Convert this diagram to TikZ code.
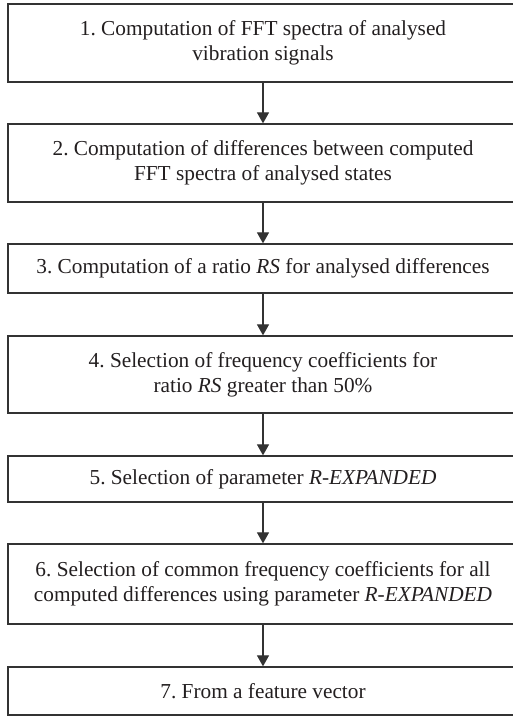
\documentclass[tikz,border=0pt]{standalone}
\usepackage{fontspec}
\setmainfont{Liberation Serif}
\usetikzlibrary{arrows.meta}
\definecolor{linec}{HTML}{333333}
\definecolor{textc}{HTML}{231F20}
\frenchspacing
\begin{document}
\begin{tikzpicture}[x=1pt,y=1pt,
  stepbox/.style={draw=linec, line width=1.3pt, minimum width=510pt, align=center,
    text=textc, font=\fontsize{21.3}{25}\selectfont, inner sep=0pt},
  flow/.style={draw=linec, line width=1.2pt, -{Triangle[width=12pt,length=11pt]}}]
\useasboundingbox (0,0) rectangle (513,-716);
\fill[white] (0,0) rectangle (513,-716);
\node[stepbox, minimum height=78pt] (s1) at (263,-43) {1. Computation of FFT spectra of analysed\\vibration signals};
\node[stepbox, minimum height=78pt] (s2) at (263,-163) {2. Computation of differences between computed\\FFT spectra of analysed states};
\node[stepbox, minimum height=49pt] (s3) at (263,-268.5) {3. Computation of a ratio \textit{RS} for analysed differences};
\node[stepbox, minimum height=77pt] (s4) at (263,-374.5) {4. Selection of frequency coefficients for\\ratio \textit{RS} greater than 50\%};
\node[stepbox, minimum height=46pt] (s5) at (263,-479) {5. Selection of parameter \textit{R-EXPANDED}};
\node[stepbox, minimum height=80pt] (s6) at (263,-584) {6. Selection of common frequency coefficients for all\\computed differences using parameter \textit{R-EXPANDED}};
\node[stepbox, minimum height=48pt] (s7) at (263,-691) {7. From a feature vector};
\draw[flow] (s1) -- (s2);
\draw[flow] (s2) -- (s3);
\draw[flow] (s3) -- (s4);
\draw[flow] (s4) -- (s5);
\draw[flow] (s5) -- (s6);
\draw[flow] (s6) -- (s7);
\end{tikzpicture}
\end{document}
